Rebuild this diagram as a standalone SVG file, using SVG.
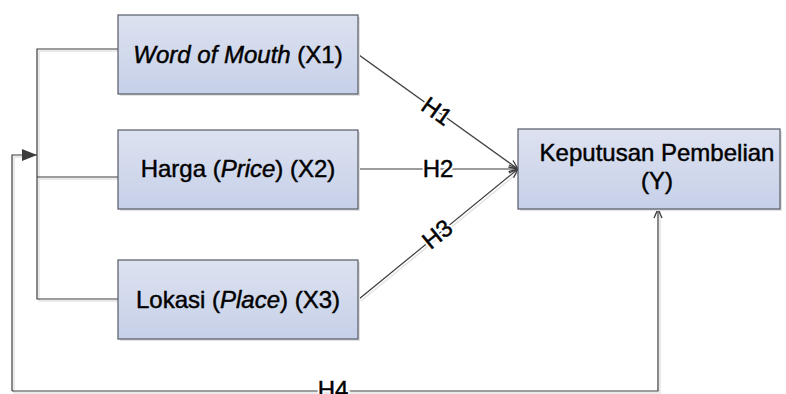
<svg xmlns="http://www.w3.org/2000/svg" width="786" height="394" viewBox="0 0 786 394">
<style>
.box{fill:url(#g);stroke:#555a66;stroke-width:1.2}
.sh{fill:#e2e2e2}
.t{font-family:"Liberation Sans",Arial,sans-serif;font-size:24px;fill:#000;text-anchor:middle;stroke:#000;stroke-width:0.45px}
.c{fill:none;stroke:#3c3c3c;stroke-width:1.2}
.cs{fill:none;stroke:#e4e4e4;stroke-width:1.5}
.lb{font-family:"Liberation Sans",Arial,sans-serif;font-size:24px;fill:#000;text-anchor:middle}
.halo{font-family:"Liberation Sans",Arial,sans-serif;font-size:24px;fill:#fff;text-anchor:middle;stroke:#fff;stroke-width:4px}
.lbt{stroke:#000;stroke-width:0.45px}
</style>
<defs>
<linearGradient id="g" x1="0" y1="0" x2="0" y2="1">
<stop offset="0" stop-color="#dde2f0"/>
<stop offset="1" stop-color="#c6d0e8"/>
</linearGradient>
<marker id="open" viewBox="0 0 10 10" refX="10" refY="5" markerWidth="10" markerHeight="10" markerUnits="userSpaceOnUse" orient="auto">
<path d="M1,1 L10,5 L1,9" fill="none" stroke="#3c3c3c" stroke-width="1.3"/>
</marker>
<marker id="fill" viewBox="0 0 15 12" refX="15" refY="6" markerWidth="15" markerHeight="12" markerUnits="userSpaceOnUse" orient="auto">
<path d="M0,0 L15,6 L0,12 Z" fill="#3c3c3c"/>
</marker>
</defs>
<g id="connectors">
<g transform="translate(2,2)">
<path class="cs" d="M118,49 H37 V299 H118 M37,177 H118"/>
<path class="cs" d="M658,209 V391 H12 V155 H22"/>
<path class="cs" d="M359,55 L518,169 M359,299 L518,169"/>
</g>
<path class="c" d="M118,49 H37 V299 H118 M37,177 H118"/>
<path class="c" d="M12,391 V155 H37" marker-end="url(#fill)"/>
<path class="c" d="M12,391 H658 V209" marker-end="url(#open)"/>
<path class="c" d="M359,55 L518,169" marker-end="url(#open)"/>
<path class="c" d="M359,169 L518,169" marker-end="url(#open)"/>
<path class="c" d="M359,299 L518,169" marker-end="url(#open)"/>
<g transform="translate(437,111) rotate(35.5)">
<text class="halo" y="8.5">H1</text><text class="lb lbt" y="8.5">H1</text>
</g>
<text class="halo" x="438" y="177">H2</text><text class="lb lbt" x="438" y="177">H2</text>
<g transform="translate(437,234) rotate(-39)">
<text class="halo" y="8.5">H3</text><text class="lb lbt" y="8.5">H3</text>
</g>
<text class="halo" x="333" y="398">H4</text><text class="lb lbt" x="333" y="398">H4</text>
</g>
<g id="x1">
<rect class="sh" x="120" y="17" width="240" height="79"/>
<rect class="box" x="118" y="15" width="240" height="79"/>
<text class="t" x="238" y="63"><tspan font-style="italic">Word of Mouth</tspan> (X1)</text>
</g>
<g id="x2">
<rect class="sh" x="120" y="132" width="240" height="79"/>
<rect class="box" x="118" y="130" width="240" height="79"/>
<text class="t" x="238" y="177">Harga (<tspan font-style="italic">Price</tspan>) (X2)</text>
</g>
<g id="x3">
<rect class="sh" x="120" y="262" width="240" height="79"/>
<rect class="box" x="118" y="260" width="240" height="79"/>
<text class="t" x="238" y="308">Lokasi (<tspan font-style="italic">Place</tspan>) (X3)</text>
</g>
<g id="y">
<rect class="sh" x="520" y="131" width="262" height="80"/>
<rect class="box" x="518" y="129" width="262" height="80"/>
<text class="t" x="657" y="161">Keputusan Pembelian</text>
<text class="t" x="657" y="189">(Y)</text>
</g>
</svg>
